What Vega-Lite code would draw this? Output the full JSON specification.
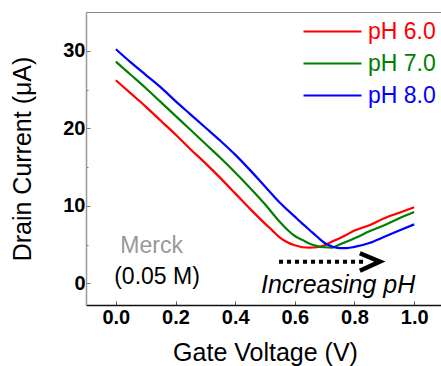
{
  "$schema": "https://vega.github.io/schema/vega-lite/v6.json",
  "width": 358,
  "height": 293,
  "autosize": "none",
  "padding": {"left": 86, "top": 12, "right": 0, "bottom": 61},
  "background": "white",
  "config": {
    "view": {"stroke": "#888888", "strokeWidth": 1},
    "font": "Liberation Sans",
    "axis": {"grid": false, "labelFont": "Liberation Sans", "titleFont": "Liberation Sans"}
  },
  "layer": [
    {
      "data": {"values": [
        {"V": 0.0, "I": 26.2, "pH": "pH 6.0"}, {"V": 0.05, "I": 24.5, "pH": "pH 6.0"}, {"V": 0.1, "I": 22.8, "pH": "pH 6.0"},
        {"V": 0.15, "I": 21.0, "pH": "pH 6.0"}, {"V": 0.2, "I": 19.2, "pH": "pH 6.0"}, {"V": 0.25, "I": 17.3, "pH": "pH 6.0"},
        {"V": 0.3, "I": 15.5, "pH": "pH 6.0"}, {"V": 0.35, "I": 13.6, "pH": "pH 6.0"}, {"V": 0.4, "I": 11.6, "pH": "pH 6.0"},
        {"V": 0.45, "I": 9.6, "pH": "pH 6.0"}, {"V": 0.5, "I": 7.7, "pH": "pH 6.0"}, {"V": 0.525, "I": 6.8, "pH": "pH 6.0"},
        {"V": 0.55, "I": 5.9, "pH": "pH 6.0"}, {"V": 0.575, "I": 5.3, "pH": "pH 6.0"}, {"V": 0.6, "I": 4.9, "pH": "pH 6.0"},
        {"V": 0.625, "I": 4.65, "pH": "pH 6.0"}, {"V": 0.65, "I": 4.6, "pH": "pH 6.0"}, {"V": 0.675, "I": 4.65, "pH": "pH 6.0"},
        {"V": 0.7, "I": 4.9, "pH": "pH 6.0"}, {"V": 0.725, "I": 5.4, "pH": "pH 6.0"}, {"V": 0.75, "I": 5.8, "pH": "pH 6.0"},
        {"V": 0.775, "I": 6.3, "pH": "pH 6.0"}, {"V": 0.8, "I": 6.8, "pH": "pH 6.0"}, {"V": 0.85, "I": 7.5, "pH": "pH 6.0"},
        {"V": 0.9, "I": 8.4, "pH": "pH 6.0"}, {"V": 0.95, "I": 9.1, "pH": "pH 6.0"}, {"V": 1.0, "I": 9.8, "pH": "pH 6.0"},

        {"V": 0.0, "I": 28.6, "pH": "pH 7.0"}, {"V": 0.05, "I": 26.9, "pH": "pH 7.0"}, {"V": 0.1, "I": 25.2, "pH": "pH 7.0"},
        {"V": 0.15, "I": 23.4, "pH": "pH 7.0"}, {"V": 0.2, "I": 21.6, "pH": "pH 7.0"}, {"V": 0.25, "I": 19.8, "pH": "pH 7.0"},
        {"V": 0.3, "I": 18.0, "pH": "pH 7.0"}, {"V": 0.35, "I": 16.2, "pH": "pH 7.0"}, {"V": 0.4, "I": 14.3, "pH": "pH 7.0"},
        {"V": 0.45, "I": 12.3, "pH": "pH 7.0"}, {"V": 0.5, "I": 10.2, "pH": "pH 7.0"}, {"V": 0.55, "I": 7.9, "pH": "pH 7.0"},
        {"V": 0.575, "I": 6.9, "pH": "pH 7.0"}, {"V": 0.6, "I": 6.1, "pH": "pH 7.0"}, {"V": 0.625, "I": 5.6, "pH": "pH 7.0"},
        {"V": 0.65, "I": 5.1, "pH": "pH 7.0"}, {"V": 0.675, "I": 4.8, "pH": "pH 7.0"}, {"V": 0.7, "I": 4.65, "pH": "pH 7.0"},
        {"V": 0.725, "I": 4.6, "pH": "pH 7.0"}, {"V": 0.75, "I": 5.0, "pH": "pH 7.0"}, {"V": 0.775, "I": 5.4, "pH": "pH 7.0"},
        {"V": 0.8, "I": 5.8, "pH": "pH 7.0"}, {"V": 0.85, "I": 6.7, "pH": "pH 7.0"}, {"V": 0.9, "I": 7.5, "pH": "pH 7.0"},
        {"V": 0.95, "I": 8.4, "pH": "pH 7.0"}, {"V": 1.0, "I": 9.2, "pH": "pH 7.0"},

        {"V": 0.0, "I": 30.2, "pH": "pH 8.0"}, {"V": 0.05, "I": 28.5, "pH": "pH 8.0"}, {"V": 0.1, "I": 26.9, "pH": "pH 8.0"},
        {"V": 0.15, "I": 25.3, "pH": "pH 8.0"}, {"V": 0.2, "I": 23.5, "pH": "pH 8.0"}, {"V": 0.25, "I": 21.8, "pH": "pH 8.0"},
        {"V": 0.3, "I": 20.1, "pH": "pH 8.0"}, {"V": 0.35, "I": 18.4, "pH": "pH 8.0"}, {"V": 0.4, "I": 16.6, "pH": "pH 8.0"},
        {"V": 0.45, "I": 14.6, "pH": "pH 8.0"}, {"V": 0.5, "I": 12.5, "pH": "pH 8.0"}, {"V": 0.55, "I": 10.4, "pH": "pH 8.0"},
        {"V": 0.6, "I": 8.6, "pH": "pH 8.0"}, {"V": 0.625, "I": 7.7, "pH": "pH 8.0"}, {"V": 0.65, "I": 6.85, "pH": "pH 8.0"},
        {"V": 0.675, "I": 6.0, "pH": "pH 8.0"}, {"V": 0.7, "I": 5.2, "pH": "pH 8.0"}, {"V": 0.725, "I": 4.75, "pH": "pH 8.0"},
        {"V": 0.75, "I": 4.55, "pH": "pH 8.0"}, {"V": 0.775, "I": 4.55, "pH": "pH 8.0"}, {"V": 0.8, "I": 4.7, "pH": "pH 8.0"},
        {"V": 0.85, "I": 5.2, "pH": "pH 8.0"}, {"V": 0.9, "I": 6.0, "pH": "pH 8.0"}, {"V": 0.95, "I": 6.8, "pH": "pH 8.0"},
        {"V": 1.0, "I": 7.6, "pH": "pH 8.0"}
      ]},
      "mark": {"type": "line", "strokeWidth": 2.2, "interpolate": "monotone"},
      "encoding": {
        "x": {
          "field": "V", "type": "quantitative",
          "scale": {"domain": [-0.1, 1.1], "nice": false, "zero": false},
          "axis": {
            "title": "Gate Voltage (V)",
            "titleFontSize": 25, "titleFontWeight": "normal", "titleColor": "black", "titlePadding": 13,
            "values": [0, 0.1, 0.2, 0.3, 0.4, 0.5, 0.6, 0.7, 0.8, 0.9, 1.0],
            "labelExpr": "round(datum.value*10) % 2 == 0 ? format(datum.value, '.1f') : ''",
            "labelFontSize": 20, "labelFontWeight": "bold", "labelColor": "black", "labelPadding": 6,
            "tickSize": {"condition": {"test": "round(datum.value*10) % 2 == 0", "value": -4}, "value": -2},
            "tickColor": "#555555",
            "domainColor": "#111111", "domainWidth": 1.5
          }
        },
        "y": {
          "field": "I", "type": "quantitative",
          "scale": {"domain": [-2.8, 35], "nice": false, "zero": false},
          "axis": {
            "title": "Drain Current (μA)",
            "titleFontSize": 25, "titleFontWeight": "normal", "titleColor": "black", "titlePadding": 27,
            "values": [0, 5, 10, 15, 20, 25, 30],
            "labelExpr": "datum.value % 10 == 0 ? datum.label : ''",
            "labelFontSize": 20, "labelFontWeight": "bold", "labelColor": "black", "labelPadding": 5,
            "tickSize": {"condition": {"test": "datum.value % 10 == 0", "value": -4}, "value": -2},
            "tickColor": "#777777",
            "domainColor": "#999999", "domainWidth": 1.5
          }
        },
        "color": {
          "field": "pH", "type": "nominal",
          "scale": {"domain": ["pH 6.0", "pH 7.0", "pH 8.0"], "range": ["#ff0000", "#008000", "#0000ff"]},
          "legend": {
            "title": null, "orient": "none", "legendX": 235, "legendY": 8,
            "symbolType": "M-4,0H4", "symbolSize": 210, "symbolStrokeWidth": 2.2, "symbolFillColor": "transparent",
            "labelFontSize": 23, "labelFont": "Liberation Sans", "labelOffset": 24, "rowPadding": 8,
            "encode": {"labels": {"update": {"fill": {"scale": "color", "field": "value"}}}}
          }
        }
      }
    },
    {
      "data": {"values": [{}]},
      "mark": {"type": "rule", "strokeWidth": 4, "strokeDash": [4, 4], "color": "black"},
      "encoding": {"x": {"datum": 0.547}, "x2": {"datum": 0.84}, "y": {"datum": 2.79}}
    },
    {
      "data": {"values": [
        {"ax": 0.818, "ay": 3.87, "o": 1},
        {"ax": 0.885, "ay": 2.79, "o": 2},
        {"ax": 0.818, "ay": 1.62, "o": 3}
      ]},
      "mark": {"type": "line", "strokeWidth": 4.5, "color": "black", "strokeJoin": "miter", "strokeCap": "butt"},
      "encoding": {
        "x": {"field": "ax", "type": "quantitative"},
        "y": {"field": "ay", "type": "quantitative"},
        "order": {"field": "o"}
      }
    },
    {
      "data": {"values": [{}]},
      "mark": {"type": "text", "text": "Merck", "fontSize": 23, "color": "#999999", "baseline": "middle", "align": "center"},
      "encoding": {"x": {"datum": 0.12}, "y": {"datum": 4.8}}
    },
    {
      "data": {"values": [{}]},
      "mark": {"type": "text", "text": "(0.05 M)", "fontSize": 23, "color": "black", "baseline": "middle", "align": "center"},
      "encoding": {"x": {"datum": 0.138}, "y": {"datum": 0.8}}
    },
    {
      "data": {"values": [{}]},
      "mark": {"type": "text", "text": "Increasing pH", "fontSize": 25, "fontStyle": "italic", "color": "black", "baseline": "middle", "align": "center"},
      "encoding": {"x": {"datum": 0.745}, "y": {"datum": -0.22}}
    }
  ]
}
